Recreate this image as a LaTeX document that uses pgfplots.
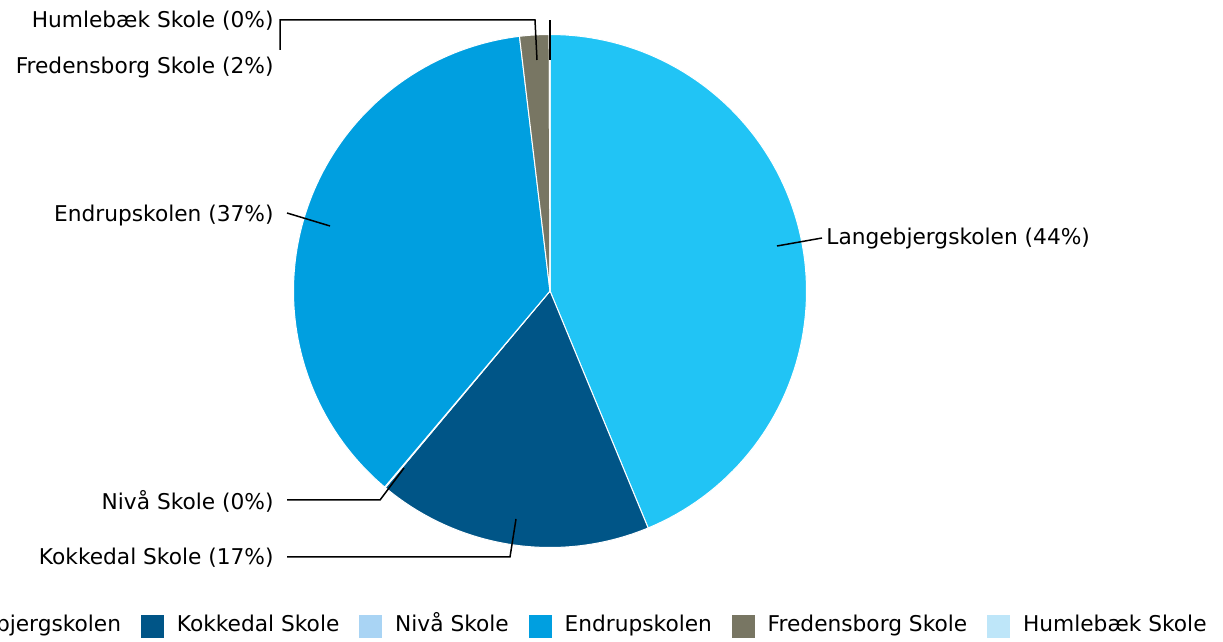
\documentclass[border=0pt]{standalone}
\usepackage{pgfplots}
\pgfplotsset{compat=1.18}
\usepackage{pgfplotstable}
\usepackage{fontspec}
\setmainfont{DejaVu Sans}

\definecolor{c0}{HTML}{21C4F5}
\definecolor{c1}{HTML}{005587}
\definecolor{c2}{HTML}{A9D4F4}
\definecolor{c3}{HTML}{009FE0}
\definecolor{c4}{HTML}{787663}
\definecolor{c5}{HTML}{BEE6F9}

% share of each school, in per cent, clockwise from the top
\pgfplotstableread{
name              value
Langebjergskolen  43.75
Kokkedal          17.35
Niva              0.05
Endrupskolen      36.95
Fredensborg       1.85
Humlebaek         0.05
}\piedata

\begin{document}
\begin{tikzpicture}
\begin{axis}[
    x=0.5bp, y=0.5bp,
    xmin=0, xmax=1223, ymin=0, ymax=641,
    hide axis, clip=false,
    font=\fontsize{10.9}{13}\selectfont,
    legend columns=-1,
    legend style={draw=none, fill=none, at={(axis cs:1207,15)}, anchor=east,
        inner sep=0pt, font=\fontsize{10.9}{13}\selectfont,
        nodes={inner sep=0pt, text height=8bp, text depth=2.5bp},
        /tikz/every odd column/.append style={column sep=6.5bp},
        /tikz/every even column/.append style={column sep=10bp}},
    legend image code/.code={\fill[#1] (0bp,-5.5bp) rectangle (11bp,5.5bp);},
]
\xdef\cum{0}
\pgfplotsinvokeforeach{0,...,5}{
    \pgfplotstablegetelem{#1}{value}\of\piedata
    \pgfmathsetmacro\va{90-3.6*\cum}
    \pgfmathsetmacro\newcum{\cum+\pgfplotsretval}
    \xdef\cum{\newcum}
    \pgfmathsetmacro\vb{90-3.6*\cum}
    \edef\temp{\noexpand\addplot[forget plot, fill=c#1, draw=white, line width=0.5bp,
        domain=\vb:\va, samples=90]
        ({550+256.5*cos(x)},{350+256.5*sin(x)}) -- (axis cs:550,350) -- cycle;}
    \temp
}

% leader lines
\addplot[forget plot, black, line width=0.75bp] coordinates {(777,395) (822,403)};
\addplot[forget plot, black, line width=0.75bp] coordinates {(330,415) (287,428)};
\addplot[forget plot, black, line width=0.75bp] coordinates {(404,173) (380,141) (287,141)};
\addplot[forget plot, black, line width=0.75bp] coordinates {(516,122) (510,84) (287,84)};
\addplot[forget plot, black, line width=0.75bp] coordinates {(537,581) (535,621) (280,621) (280,591)};
\addplot[forget plot, black, line width=0.75bp] coordinates {(550,581) (550,621)};

\node[anchor=west, inner sep=0pt] at (axis cs:826,402) {Langebjergskolen (44\%)};
\node[anchor=east, inner sep=0pt] at (axis cs:274,425) {Endrupskolen (37\%)};
\node[anchor=east, inner sep=0pt] at (axis cs:274,140) {Nivå Skole (0\%)};
\node[anchor=east, inner sep=0pt] at (axis cs:274,83) {Kokkedal Skole (17\%)};
\node[anchor=east, inner sep=0pt] at (axis cs:274,620) {Humlebæk Skole (0\%)};
\node[anchor=east, inner sep=0pt] at (axis cs:274,573) {Fredensborg Skole (2\%)};

\addlegendimage{c0}\addlegendentry{Langebjergskolen}
\addlegendimage{c1}\addlegendentry{Kokkedal Skole}
\addlegendimage{c2}\addlegendentry{Nivå Skole}
\addlegendimage{c3}\addlegendentry{Endrupskolen}
\addlegendimage{c4}\addlegendentry{Fredensborg Skole}
\addlegendimage{c5}\addlegendentry{Humlebæk Skole}
\end{axis}
\pgfresetboundingbox
\path[use as bounding box] (current axis.south west) rectangle (current axis.north east);
\end{tikzpicture}
\end{document}
